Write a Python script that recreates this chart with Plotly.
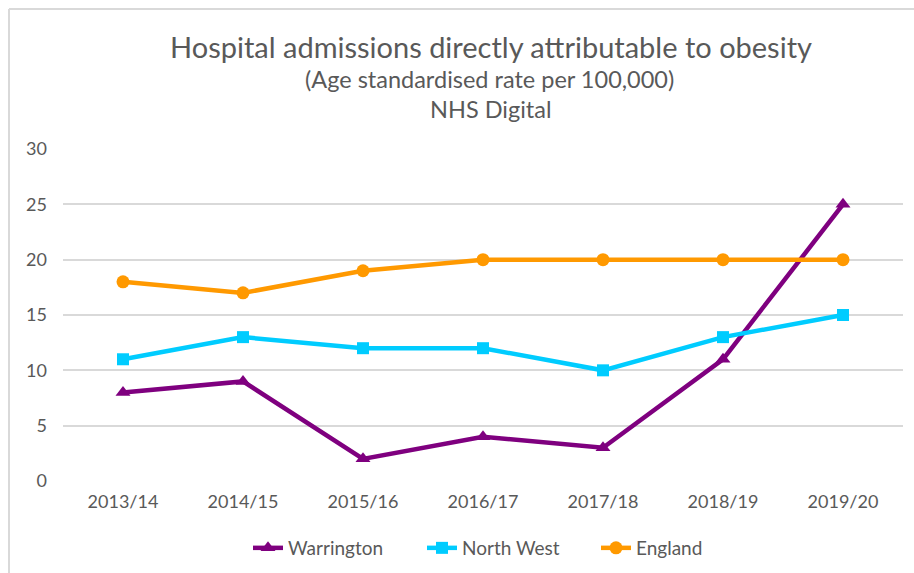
import plotly.graph_objects as go

years = ["2013/14", "2014/15", "2015/16", "2016/17", "2017/18", "2018/19", "2019/20"]
warrington = [8, 9, 2, 4, 3, 11, 25]
north_west = [11, 13, 12, 12, 10, 13, 15]
england = [18, 17, 19, 20, 20, 20, 20]

FONT = "Lato"
GREY = "#595959"

fig = go.Figure()
fig.add_trace(go.Scatter(x=years, y=warrington, name="Warrington", mode="lines+markers",
                         line=dict(color="#7F007F", width=4.5),
                         marker=dict(symbol="triangle-up", size=13, color="#7F007F")))
fig.add_trace(go.Scatter(x=years, y=north_west, name="North West", mode="lines+markers",
                         line=dict(color="#00CCFF", width=4.5),
                         marker=dict(symbol="square", size=12, color="#00CCFF")))
fig.add_trace(go.Scatter(x=years, y=england, name="England", mode="lines+markers",
                         line=dict(color="#FF9900", width=4.5),
                         marker=dict(symbol="circle", size=13, color="#FF9900")))

W, H = 914, 573
ml, mr, mt, mb = 63, 11, 149, 92
pw, ph = W - ml - mr, H - mt - mb

def px_x(x):
    return (x - ml) / pw

def px_y(y):
    return (H - mb - y) / ph

annotations = [
    dict(text="Hospital admissions directly attributable to obesity", x=px_x(491), y=px_y(47),
         font=dict(size=29, color=GREY, family=FONT)),
    dict(text="(Age standardised rate per 100,000)", x=px_x(489), y=px_y(79),
         font=dict(size=23.5, color=GREY, family=FONT)),
    dict(text="NHS Digital", x=px_x(490), y=px_y(109),
         font=dict(size=23.5, color=GREY, family=FONT)),
]
for a in annotations:
    a.update(xref="paper", yref="paper", showarrow=False, xanchor="center", yanchor="middle")

shapes = [
    dict(type="line", xref="paper", yref="paper", x0=px_x(9), x1=px_x(9), y0=px_y(9), y1=px_y(580),
         line=dict(color="#D9D9D9", width=2)),
    dict(type="line", xref="paper", yref="paper", x0=px_x(9), x1=px_x(920), y0=px_y(9), y1=px_y(9),
         line=dict(color="#D9D9D9", width=2)),
]

fig.update_layout(
    width=W, height=H,
    margin=dict(l=ml, r=mr, t=mt, b=mb, autoexpand=False),
    paper_bgcolor="white", plot_bgcolor="white",
    font=dict(family=FONT, color=GREY, size=18),
    showlegend=True,
    legend=dict(orientation="h", x=px_x(248), xanchor="left", y=px_y(548), yanchor="middle",
                entrywidth=129, entrywidthmode="pixels",
                font=dict(size=19, color=GREY, family=FONT)),
    xaxis=dict(range=[-0.5, 6.5], showgrid=False, showline=False, ticks="",
               tickfont=dict(size=18, color=GREY), ticklabelstandoff=8, automargin=False),
    yaxis=dict(range=[0, 30], tickvals=[0, 5, 10, 15, 20, 25, 30], showgrid=True,
               gridcolor="#D9D9D9", gridwidth=1.5, zeroline=False, showline=False,
               tickfont=dict(size=18, color=GREY), ticklabelstandoff=15, automargin=False),
    annotations=annotations,
    shapes=shapes,
)

fig.write_html("out.html", config={"displayModeBar": False},
               post_script="document.body.style.margin='0';")
